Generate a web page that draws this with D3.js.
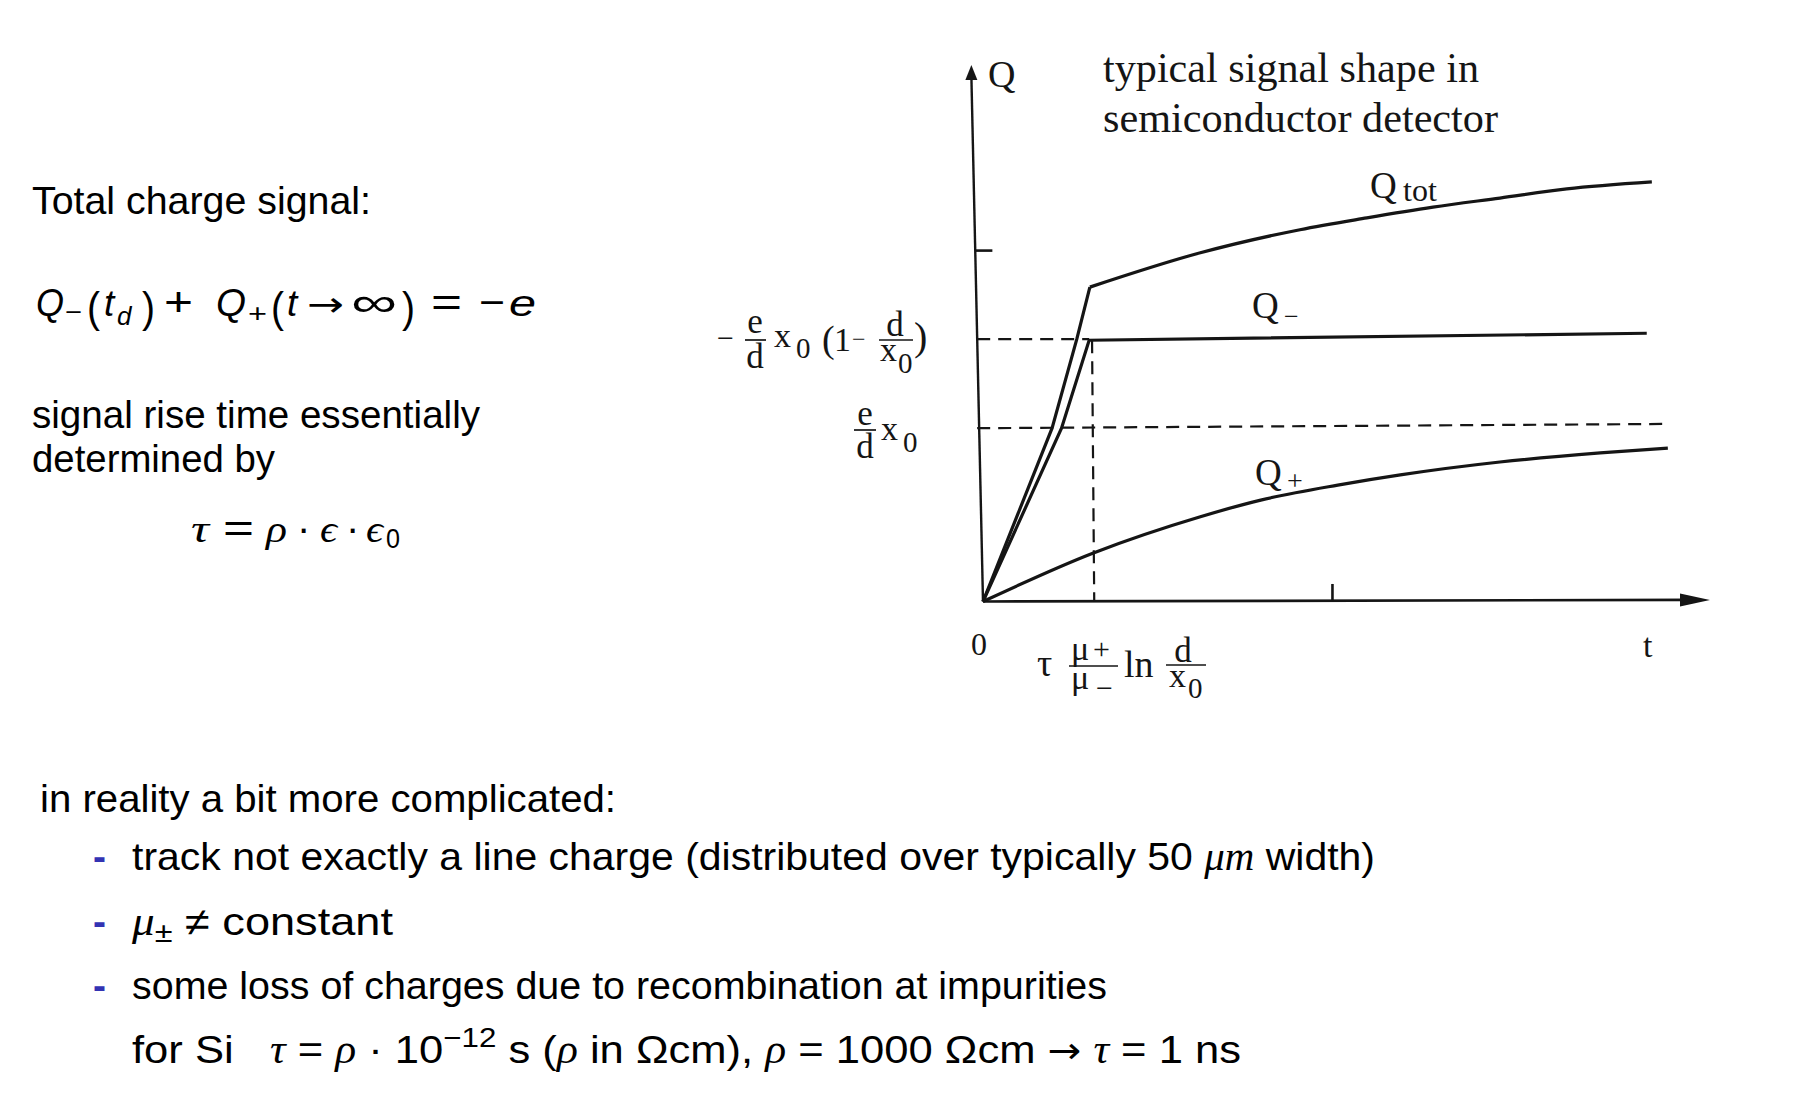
<!DOCTYPE html>
<html><head><meta charset="utf-8">
<script src="https://cdn.jsdelivr.net/npm/d3@7"></script>
<style>body{margin:0;background:#fff}svg text{white-space:pre}</style>
</head><body>
<svg id="c" width="1798" height="1106"></svg>
<script>
// ---------- data (arbitrary units: t 0..100 along the axis, Q 0..100 along the axis) ----------
const qTotRise = [[0,0],[9.5,32.3],[12.9,48.9],[14.7,58.6]];
const qTotTail = [[14.7,58.6],[29.9,65.0],[43.6,69.3],[52.8,71.5],[61.9,73.5],[71.1,75.2],[80.3,76.9],[92.0,78.2]];
const qMinus = [[0,0],[10.8,32.3],[14.6,48.7],[91.3,50.0]];
const qPlus  = [[0,0],[15.1,9.0],[29.9,15.8],[38.2,18.9],[48.8,21.7],[57.4,23.6],[71.1,26.0],[84.9,27.7],[94.2,28.6]];
const dashLevelA = [[-0.8,48.9],[14.6,48.9]];     // -e/d x0 (1-d/x0)
const dashLevelB = [[-0.8,32.3],[94.5,33.1]];     // e/d x0
const dashDrift  = [[15.0,48.7],[15.3,0]];        // t = tau mu+/mu- ln d/x0
const yAxisLine  = [[0,0],[-1.6,100]];
const xAxisLine  = [[0,0],[100,0.3]];
const yTicks = [65.5];
const xTicks = [48.0];

const svg = d3.select('#c');
const X = d3.scaleLinear().domain([0,100]).range([983,1710]);
const Y = d3.scaleLinear().domain([0,100]).range([601.5,65]);
const ink = '#151515';
const line = d3.line().x(d=>X(d[0])).y(d=>Y(d[1]));
const smooth = d3.line().x(d=>X(d[0])).y(d=>Y(d[1])).curve(d3.curveMonotoneX);
const plot = svg.append('g');

// axes
plot.append('path').attr('d', line(yAxisLine.map((d,i)=> i ? [d[0], d[1]-2] : d))).attr('stroke',ink).attr('stroke-width',2.4).attr('fill','none');
plot.append('path').attr('d', line(xAxisLine.map((d,i)=> i ? [d[0]-3, d[1]] : d))).attr('stroke',ink).attr('stroke-width',2.6).attr('fill','none');
{ const tx = X(yAxisLine[1][0]), ty = Y(yAxisLine[1][1]);
  plot.append('path').attr('d',`M${tx},${ty}L${tx-6},${ty+15}L${tx+6},${ty+15}Z`).attr('fill',ink); }
{ const tx = X(xAxisLine[1][0]), ty = Y(xAxisLine[1][1]);
  plot.append('path').attr('d',`M${tx},${ty}L${tx-30},${ty-6.5}L${tx-30},${ty+6.5}Z`).attr('fill',ink); }

const yAx = plot.append('g').attr('transform',`translate(${X(-1.05)},0)`).call(d3.axisRight(Y).tickValues(yTicks).tickSize(17).tickFormat(''));
const xAx = plot.append('g').attr('transform',`translate(0,${Y(0.1)})`).call(d3.axisTop(X).tickValues(xTicks).tickSize(17).tickFormat(''));
[yAx,xAx].forEach(a=>{a.select('.domain').remove(); a.selectAll('line').attr('stroke',ink).attr('stroke-width',2.6);});

// dashed guides
[dashLevelA, dashLevelB, dashDrift].forEach(d=>{
  plot.append('path').attr('d',line(d)).attr('stroke',ink).attr('stroke-width',2.2).attr('stroke-dasharray','13,8').attr('fill','none');
});

// curves
const cAttr = p => p.attr('stroke',ink).attr('stroke-width',3.2).attr('fill','none').attr('stroke-linejoin','miter');
cAttr(plot.append('path').attr('d',line(qTotRise)));
cAttr(plot.append('path').attr('d',smooth(qTotTail)));
cAttr(plot.append('path').attr('d',line(qMinus)));
cAttr(plot.append('path').attr('d',smooth(qPlus)));

// ---------- serif labels of the figure ----------
const serif = "'Liberation Serif','DejaVu Serif',serif";
function st(x,y,txt,fs,anchor,len){
  const t = svg.append('text').attr('x',x).attr('y',y).text(txt).attr('font-family',serif).attr('font-size',fs).attr('fill',ink);
  if(anchor) t.attr('text-anchor',anchor);
  if(len) t.attr('textLength',len).attr('lengthAdjust','spacingAndGlyphs');
  return t;
}
function bar(x1,x2,y){ svg.append('line').attr('x1',x1).attr('x2',x2).attr('y1',y).attr('y2',y).attr('stroke',ink).attr('stroke-width',1.7); }

st(988,87,'Q',38);
st(1103,82,'typical signal shape in',42,null,376);
st(1103,132,'semiconductor detector',42,null,395);
st(1370,198,'Q',37); st(1403,201,'tot',32);
st(1252,318,'Q',37); st(1284,325,'−',26);
st(1255,485,'Q',37); st(1287,490,'+',28);
st(979,655,'0',32,'middle');
st(1643,657,'t',34);

// -e/d x0 (1 - d/x0)
st(717,348,'−',30);
st(755,333,'e',35,'middle'); bar(745,766,340); st(755,368,'d',35,'middle');
st(774,347,'x',34); st(796,358,'0',29);
st(822,352,'(',38); st(834,351,'1',34); st(852,347,'−',24);
st(895,336,'d',35,'middle'); bar(879,913,340); st(880,361,'x',34); st(898,373,'0',29);
st(914,350,')',40);
// e/d x0
st(865,425,'e',35,'middle'); bar(854,876,430); st(865,458,'d',35,'middle');
st(881,440,'x',34); st(903,452,'0',29);
// tau mu+/mu- ln d/x0
st(1037,676,'τ',38);
st(1071,660,'μ',34); st(1093,659,'+',30); bar(1069,1118,666);
st(1071,689,'μ',34); st(1096,698,'−',30);
st(1124,677,'ln',38);
st(1183,662,'d',35,'middle'); bar(1166,1206,665); st(1169,687,'x',34); st(1188,698,'0',29);

// ---------- slide text ----------
const sans = "'Liberation Sans',Arial,sans-serif";
const gre = "'Liberation Serif','DejaVu Serif',serif";
const dj = "'DejaVu Sans',sans-serif";
function sansLine(x,y,parts,len,fs){
  const t = svg.append('text').attr('x',x).attr('y',y).attr('font-family',sans).attr('font-size',fs||39).attr('fill','#000');
  parts.forEach(p=>{
    if(typeof p==='string'){ t.append('tspan').text(p); return; }
    const s = t.append('tspan').text(p.t);
    if(p.i) s.attr('font-style','italic');
    if(p.g) s.attr('font-family',gre).attr('font-style','italic');
    if(p.f) s.attr('font-family',p.f);
    if(p.dy) s.attr('dy',p.dy);
    if(p.fs) s.attr('font-size',p.fs);
  });
  if(len) t.attr('textLength',len).attr('lengthAdjust','spacingAndGlyphs');
  return t;
}
function piece(x,y,txt,fs,opt){
  opt = opt||{};
  const t = svg.append('text').attr('x',x).attr('y',y).text(txt).attr('font-family',opt.f||(opt.g?gre:sans)).attr('font-size',fs).attr('fill','#000');
  if(opt.i||opt.g) t.attr('font-style','italic');
  if(opt.w) t.attr('textLength',opt.w).attr('lengthAdjust','spacingAndGlyphs');
  return t;
}

sansLine(32,214,['Total charge signal:'],339);

// Q-(t_d) + Q+(t -> inf) = -e
const eq = [
  [36,316,'Q',38,{i:1,w:28}],[65,321,'−',26,{w:17}],[87,322,'(',42,{w:13}],[104,316,'t',37,{i:1}],
  [117,325,'d',26,{i:1}],[142,322,')',42,{w:13}],[164,316,'+',40,{w:29}],[216,316,'Q',38,{i:1,w:30}],
  [248,322,'+',26,{w:19}],[271,322,'(',42,{w:13}],[287,316,'t',37,{i:1}],[307,316,'→',34,{f:dj,w:37}],
  [351,316,'∞',40,{w:46}],[402,322,')',42,{w:13}],[431,316,'=',40,{w:31}],[479,316,'−',40,{w:26}],[509,316,'e',37,{i:1,w:27}]
];
eq.forEach(p=>piece(...p));

sansLine(32,428,['signal rise time essentially'],448);
sansLine(32,472,['determined by'],243);

// tau = rho . eps . eps0
[[191,542,'τ',38,{g:1,w:18}],[223,542,'=',40,{w:31}],[266,542,'ρ',38,{g:1,w:21}],[297,542,'·',40,{}],
 [320,542,'ϵ',38,{g:1,w:17}],[346,542,'·',40,{}],[366,542,'ϵ',38,{g:1,w:17}],[386,548,'0',28,{w:14}]].forEach(p=>piece(...p));

sansLine(40,812,['in reality a bit more complicated:'],576);

const blue = '#3333b3';
[870,935,999].forEach(y=>svg.append('text').attr('x',93).attr('y',y).text('-').attr('font-family',sans).attr('font-size',39).attr('font-weight','bold').attr('fill',blue));

sansLine(132,870,['track not exactly a line charge (distributed over typically 50 ',{t:'μm',g:1},{t:' width)'}],1243);
sansLine(132,935,[{t:'μ',g:1},{t:'±',fs:28,dy:7},{t:' ≠ constant',dy:-7}],261);
sansLine(132,999,['some loss of charges due to recombination at impurities'],975);
sansLine(132,1063,['for Si   ',{t:'τ',g:1},' = ',{t:'ρ',g:1},' · 10',{t:'−12',fs:28,dy:-16},{t:' s (',dy:16},{t:'ρ',g:1},' in Ωcm), ',{t:'ρ',g:1},' = 1000 Ωcm ',{t:'→',f:dj,fs:36},' ',{t:'τ',g:1},' = 1 ns'],1109);
</script>
</body></html>
